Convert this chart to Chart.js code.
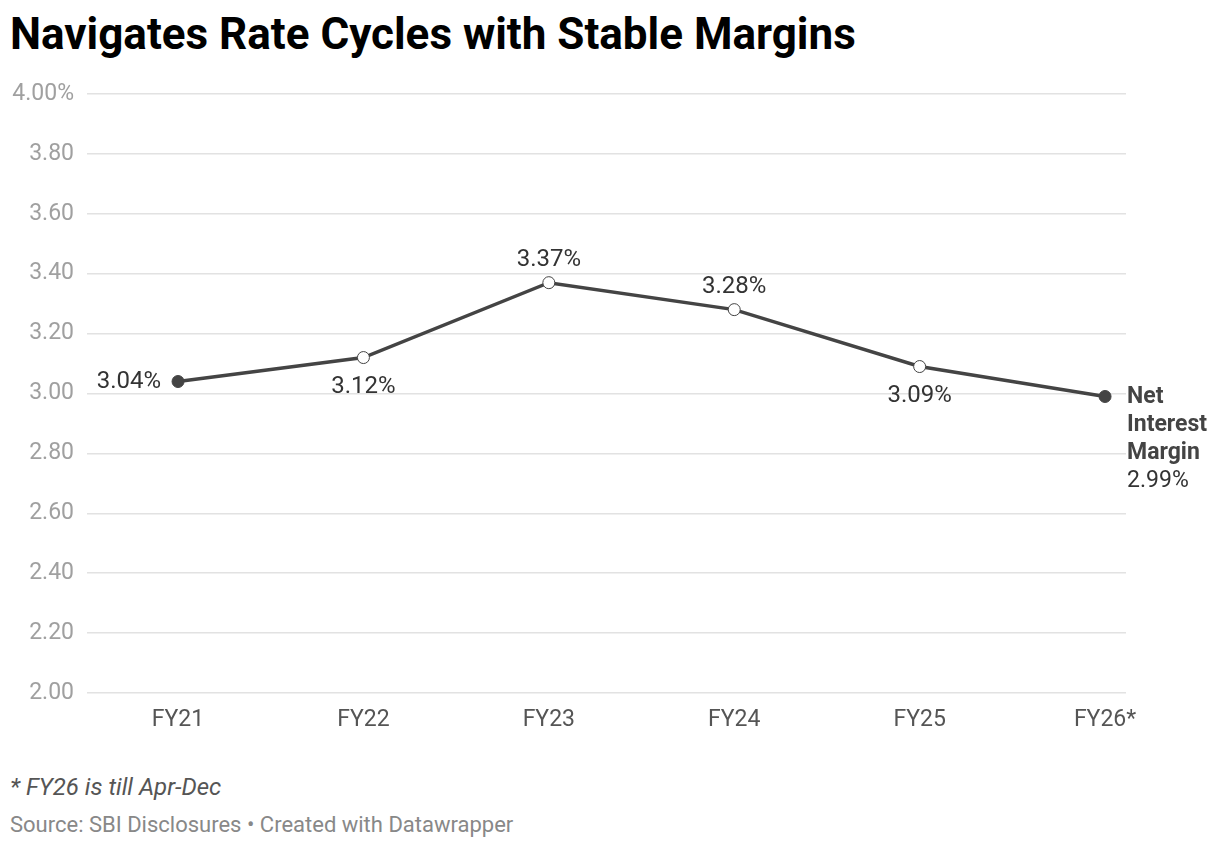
<!DOCTYPE html>
<html>
<head>
<meta charset="utf-8">
<script src="https://cdn.jsdelivr.net/npm/chart.js@4.4.1/dist/chart.umd.min.js"></script>
<style>
  html, body { margin: 0; padding: 0; background: #fff; }
  body { width: 1220px; height: 848px; position: relative; overflow: hidden; font-family: Roboto, sans-serif; }
  h1 { position: absolute; left: 10px; top: 8px; margin: 0; font-size: 44px; font-weight: 700; color: #000; line-height: 52px; }
  .wrap { position: absolute; left: 0; top: 0; width: 1220px; height: 760px; }
  .note { position: absolute; left: 10px; top: 772px; font-size: 24px; line-height: 30px; font-style: italic; color: #555; }
  .source { position: absolute; left: 10px; top: 811px; font-size: 22px; line-height: 28px; color: #888; }
</style>
</head>
<body>
<h1>Navigates Rate Cycles with Stable Margins</h1>
<div class="wrap"><canvas id="nim"></canvas></div>
<div class="note">* FY26 is till Apr-Dec</div>
<div class="source">Source: SBI Disclosures • Created with Datawrapper</div>
<script>
// ---- DATA ----
const years = ['FY21', 'FY22', 'FY23', 'FY24', 'FY25', 'FY26*'];
const nim = [3.04, 3.12, 3.37, 3.28, 3.09, 2.99];
const seriesName = ['Net', 'Interest', 'Margin'];
// where each value label goes: left / below / above / right
const labelSide = ['left', 'below', 'above', 'above', 'below', 'right'];

const lineColor = '#444444';
const last = nim.length - 1;

// draws value labels next to the points
const valueLabels = {
  id: 'valueLabels',
  afterDatasetsDraw(chart) {
    const ctx = chart.ctx;
    const meta = chart.getDatasetMeta(0);
    ctx.save();
    ctx.textBaseline = 'middle';
    meta.data.forEach((pt, i) => {
      const txt = nim[i].toFixed(2) + '%';
      const side = labelSide[i];
      ctx.font = '24px Roboto';
      ctx.fillStyle = '#333';
      if (side === 'left') {
        ctx.textAlign = 'right';
        ctx.fillText(txt, pt.x - 17, pt.y);
      } else if (side === 'below') {
        ctx.textAlign = 'center';
        ctx.fillText(txt, pt.x, pt.y + 29);
      } else if (side === 'above') {
        ctx.textAlign = 'center';
        ctx.fillText(txt, pt.x, pt.y - 23);
      } else {
        ctx.textAlign = 'left';
        ctx.font = 'bold 23px Roboto';
        ctx.fillStyle = '#444';
        seriesName.forEach((w, k) => ctx.fillText(w, pt.x + 22, pt.y + 1 + k * 28));
        ctx.font = '23px Roboto';
        ctx.fillStyle = '#333';
        ctx.fillText(txt, pt.x + 22, pt.y + 1 + seriesName.length * 28);
      }
    });
    ctx.restore();
  }
};

new Chart(document.getElementById('nim'), {
  type: 'line',
  data: {
    datasets: [{
      label: 'Net Interest Margin',
      data: nim.map((v, i) => ({ x: i, y: v })),
      borderColor: lineColor,
      borderWidth: 3.5,
      tension: 0,
      pointRadius: nim.map((v, i) => (i === 0 || i === last) ? 6 : 6),
      pointBackgroundColor: nim.map((v, i) => (i === 0 || i === last) ? lineColor : '#fff'),
      pointBorderColor: lineColor,
      pointBorderWidth: 1,
      fill: false
    }]
  },
  options: {
    responsive: true,
    maintainAspectRatio: false,
    animation: false,
    layout: { padding: { top: 94, right: 94, left: 0, bottom: 0 } },
    plugins: { legend: { display: false }, tooltip: { enabled: false } },
    scales: {
      x: {
        type: 'linear',
        min: -0.491,
        max: 5.113,
        afterBuildTicks(scale) {
          scale.ticks = years.map((y, i) => ({ value: i }));
        },
        afterFit(scale) { scale.height = 67; },
        grid: { display: false },
        border: { display: false },
        ticks: {
          padding: 5,
          autoSkip: false,
          maxRotation: 0,
          color: '#555',
          font: { family: 'Roboto', size: 23 },
          callback: (v) => years[v]
        }
      },
      y: {
        min: 2,
        max: 4,
        afterFit(scale) { scale.width = 87; },
        grid: { color: '#e2e2e2', lineWidth: 1.5, drawTicks: false },
        border: { display: false },
        ticks: {
          stepSize: 0.2,
          padding: 13,
          color: '#a0a0a0',
          font: { family: 'Roboto', size: 23 },
          callback: (v) => Math.abs(v - 4) < 1e-6 ? '4.00%' : v.toFixed(2)
        }
      }
    }
  },
  plugins: [valueLabels]
});
</script>
</body>
</html>
